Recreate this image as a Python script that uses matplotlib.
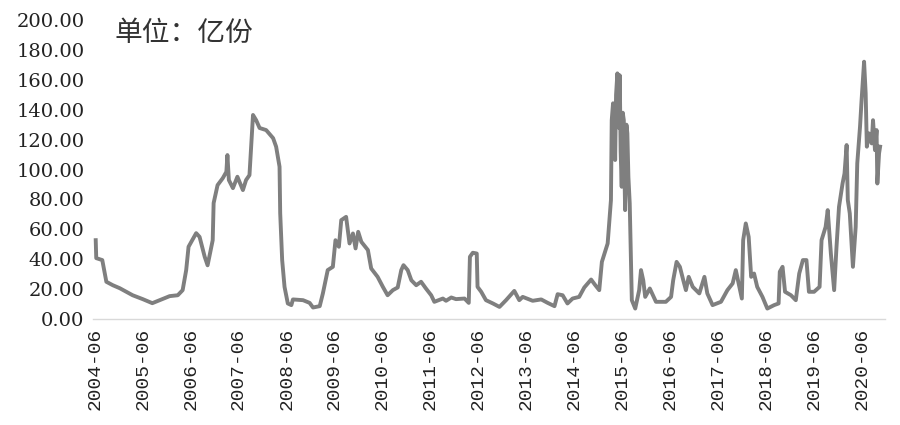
#!/usr/bin/env python

import matplotlib
matplotlib.use('Agg')
import matplotlib.pyplot as plt
import matplotlib.dates as mdates
import pandas as pd

# Fund shares (100 million units)
dates = [
    '2004-06-08', '2004-06-12', '2004-07-28', '2004-08-28', '2004-10-16', '2004-12-08',
    '2005-03-16', '2005-06-01', '2005-08-13', '2005-10-08', '2005-12-23', '2006-02-23',
    '2006-04-01', '2006-04-28', '2006-05-16', '2006-07-13', '2006-08-08', '2006-09-16',
    '2006-10-08', '2006-11-16', '2006-11-23', '2006-12-23', '2007-02-01', '2007-02-28',
    '2007-03-08', '2007-03-19', '2007-04-19', '2007-05-23', '2007-07-04', '2007-07-28',
    '2007-08-23', '2007-09-19', '2007-10-13', '2007-11-08', '2007-12-28', '2008-02-19',
    '2008-03-13', '2008-04-08', '2008-04-13', '2008-04-28', '2008-05-16', '2008-06-10',
    '2008-07-07', '2008-07-19', '2008-10-04', '2008-11-23', '2008-12-19', '2009-02-08',
    '2009-03-04', '2009-04-10', '2009-05-19', '2009-06-08', '2009-07-04', '2009-07-22',
    '2009-08-28', '2009-09-23', '2009-10-19', '2009-11-08', '2009-11-28', '2009-12-22',
    '2010-02-10', '2010-03-07', '2010-04-25', '2010-06-04', '2010-07-10', '2010-08-19',
    '2010-09-25', '2010-10-22', '2010-11-08', '2010-12-10', '2011-01-07', '2011-02-13',
    '2011-03-22', '2011-04-28', '2011-06-07', '2011-07-01', '2011-09-04', '2011-09-28',
    '2011-11-07', '2011-12-13', '2012-02-16', '2012-03-19', '2012-03-28', '2012-04-19',
    '2012-05-19', '2012-05-25', '2012-06-22', '2012-07-28', '2012-09-19', '2012-11-08',
    '2012-12-28', '2013-03-01', '2013-04-08', '2013-05-04', '2013-07-19', '2013-09-22',
    '2013-11-10', '2014-01-01', '2014-01-25', '2014-03-04', '2014-04-10', '2014-05-19',
    '2014-07-08', '2014-08-16', '2014-10-07', '2014-11-08', '2014-12-08', '2014-12-28',
    '2015-02-10', '2015-03-07', '2015-03-13', '2015-03-23', '2015-03-28', '2015-04-02',
    '2015-04-08', '2015-04-15', '2015-04-25', '2015-05-05', '2015-05-13', '2015-05-20',
    '2015-05-28', '2015-06-05', '2015-06-13', '2015-06-18', '2015-06-23', '2015-07-03',
    '2015-07-10', '2015-07-18', '2015-07-28',
    '2015-08-13', '2015-09-08', '2015-10-08', '2015-10-22', '2015-11-08', '2015-11-23',
    '2015-12-28', '2016-02-13', '2016-04-28', '2016-06-07', '2016-06-23', '2016-07-19',
    '2016-08-13', '2016-09-08', '2016-09-28', '2016-10-19', '2016-11-19', '2017-01-08',
    '2017-02-16', '2017-03-10', '2017-04-19', '2017-06-22', '2017-08-10', '2017-09-19',
    '2017-10-13', '2017-11-28', '2017-12-08', '2017-12-28', '2018-01-19', '2018-02-07',
    '2018-03-01', '2018-03-25', '2018-05-04', '2018-06-10', '2018-08-01', '2018-09-04',
    '2018-09-13', '2018-10-04', '2018-10-23', '2018-12-07', '2019-01-13', '2019-02-08',
    '2019-03-08', '2019-04-04', '2019-04-23', '2019-06-01', '2019-07-13', '2019-07-28',
    '2019-08-28', '2019-09-13', '2019-10-07', '2019-11-01', '2019-11-19', '2019-12-08',
    '2020-01-04', '2020-01-19', '2020-02-04', '2020-02-13', '2020-02-28', '2020-03-23',
    '2020-04-13', '2020-04-25', '2020-05-16', '2020-05-28', '2020-06-16', '2020-06-28',
    '2020-07-07', '2020-07-23', '2020-08-13', '2020-08-23', '2020-09-07', '2020-09-19',
    '2020-09-25', '2020-10-08', '2020-10-16',
]
shares = [
    52.8, 40.8, 39.5, 25.0, 22.7, 20.7,
    16.0, 13.4, 10.7, 12.7, 15.4, 16.0,
    19.4, 32.8, 48.4, 57.5, 55.0, 41.7,
    36.0, 52.8, 77.6, 89.6, 94.3, 98.5,
    109.7, 93.0, 87.6, 95.2, 86.3, 93.0,
    96.3, 136.5, 133.0, 127.8, 126.4, 121.0,
    115.3, 101.9, 70.9, 39.5, 21.6, 10.5,
    9.4, 13.2, 12.7, 10.9, 7.8, 8.7,
    17.2, 32.8, 35.0, 52.8, 48.4, 66.2,
    68.4, 50.6, 57.3, 47.3, 58.4, 51.7,
    46.2, 33.9, 28.3, 21.6, 16.0, 19.4,
    21.2, 32.8, 36.1, 32.8, 26.0, 22.7,
    25.0, 20.5, 16.0, 11.6, 13.8, 12.3,
    14.5, 13.4, 13.8, 10.9, 41.7, 44.4,
    43.9, 21.6, 18.3, 12.7, 10.5, 8.2,
    12.7, 18.9, 12.7, 14.9, 12.3, 13.2,
    10.9, 8.7, 16.7, 16.0, 10.5, 13.8,
    14.9, 21.2, 26.5, 22.7, 19.4, 38.3,
    50.6, 79.6, 133.0, 144.3, 118.0, 142.0,
    106.4, 150.0, 164.3, 128.0, 163.0, 112.0,
    88.5, 138.0, 133.0, 98.0, 72.9, 130.0,
    124.2, 95.0, 77.4,
    12.7, 7.1, 19.4, 32.8, 26.0, 14.9,
    20.5, 11.6, 11.6, 14.9, 26.0, 38.3,
    35.0, 26.0, 19.4, 28.3, 21.6, 17.2,
    28.3, 17.2, 9.4, 11.6, 19.4, 23.9,
    32.8, 13.8, 52.8, 64.0, 55.0, 28.3,
    30.5, 21.6, 14.9, 7.1, 9.4, 10.5,
    31.7, 35.0, 18.3, 16.0, 12.7, 30.5,
    39.5, 39.5, 18.3, 18.3, 21.6, 52.8,
    61.7, 72.9, 43.9, 19.4, 48.4, 75.1,
    90.7, 97.4, 116.4, 79.6, 70.7, 35.0,
    61.7, 104.1, 128.6, 146.5, 172.1, 151.0,
    115.3, 124.2, 117.5, 133.0, 113.0, 126.4,
    90.7, 110.8, 115.3,
]

x = pd.to_datetime(dates)

fig = plt.figure(figsize=(9, 4.25), dpi=100)
ax = fig.add_axes([0.103, 0.249, 0.880, 0.704])

ax.plot(x, shares, color='#7f7f7f', lw=2.8, solid_joinstyle='round')

ax.set_ylim(0, 200)
ax.set_yticks(range(0, 201, 20))
ax.set_yticklabels(['{0:.2f}'.format(v) for v in range(0, 201, 20)],
                   family='DejaVu Serif', fontsize=14, color='#222222')

ax.set_xlim(pd.Timestamp('2004-05-16'), pd.Timestamp('2020-11-20'))
ax.xaxis.set_major_locator(mdates.MonthLocator(bymonth=6, bymonthday=1))
ax.xaxis.set_major_formatter(mdates.DateFormatter('%Y-%m'))
for lab in ax.get_xticklabels():
    lab.set_rotation(90)
    lab.set_family('Liberation Mono')
    lab.set_fontsize(14)
    lab.set_color('#222222')

ax.tick_params(length=0, pad=6)
for s in ['top', 'right', 'left']:
    ax.spines[s].set_visible(False)
ax.spines['bottom'].set_color('#d9d9d9')
ax.spines['bottom'].set_linewidth(1)

ax.text(0.028, 0.955, '单位：亿份', transform=ax.transAxes,
        family=['Noto Sans CJK SC', 'DejaVu Sans'], fontsize=20,
        color='#333333', va='center', ha='left')

plt.savefig('out.png', dpi=100)
